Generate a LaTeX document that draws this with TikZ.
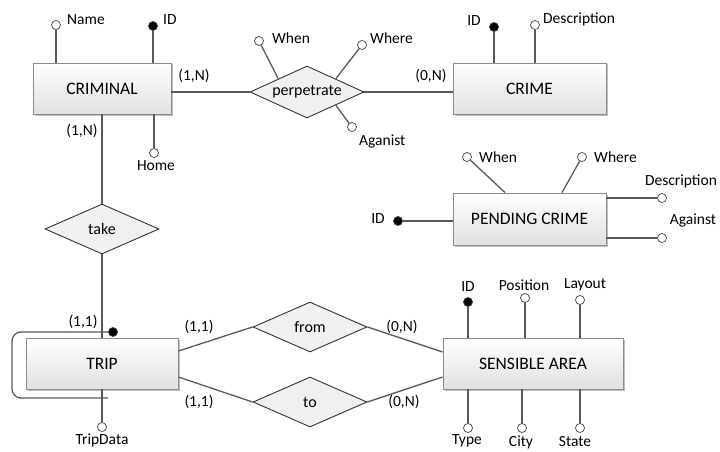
\documentclass[tikz,border=0pt]{standalone}
\usepackage{fontspec}
\setmainfont{Carlito}
\usetikzlibrary{shapes.geometric,shadows}
\definecolor{linegray}{HTML}{595959}
\definecolor{boxgray}{HTML}{8C8C8C}
\begin{document}
\begin{tikzpicture}[x=1pt,y=-1pt,
  entity/.style={rectangle, draw=boxgray, line width=0.9, top color=white, bottom color=black!12,
    minimum height=51, font=\fontsize{17.5}{20}\selectfont,
    drop shadow={shadow xshift=1.5pt, shadow yshift=-1.5pt, opacity=0.25, fill=black}},
  relation/.style={diamond, draw=black!80, line width=0.9, fill=black!6, inner sep=0,
    shape aspect=2.2, minimum width=114, minimum height=50, font=\fontsize{16}{19}\selectfont},
  attr/.style={circle, draw=black!75, line width=0.7, fill=white, inner sep=0, minimum size=9},
  key/.style={attr, fill=black},
  lbl/.style={font=\fontsize{15.5}{18}\selectfont, inner sep=0},
  link/.style={draw=linegray, line width=1.3}]
\useasboundingbox (0,0) rectangle (720,452);
% entities
\node[entity, minimum width=138] (criminal) at (102,88.5){CRIMINAL};
\node[entity, minimum width=153] (crime) at (529.5,88.5){CRIME};
\node[entity, minimum width=153, minimum height=52] (pending) at (529.5,219){PENDING CRIME};
\node[entity, minimum width=152] (trip) at (102,363.5){TRIP};
\node[entity, minimum width=180] (area) at (533,363.5){SENSIBLE AREA};
% relationships
\node[relation, minimum height=52] (perp) at (307,92){perpetrate};
\node[relation] (take) at (102,229){take};
\node[relation] (from) at (310,327){from};
\node[relation] (to) at (310,402){to};
\draw[link](perp.west) -- (perp.west -| criminal.east);
\draw[link](perp.east) -- (perp.east -| crime.west);
\draw[link](criminal) -- (take);
\draw[link](take) -- (trip);
\draw[link]([yshift=12.5pt]trip.east) -- (from.west);
\draw[link]([yshift=-13.5pt]trip.east) -- (to.west);
\draw[link](from.east) -- ([yshift=11.5pt]area.west);
\draw[link](to.east) -- ([yshift=-13.5pt]area.west);
% cardinalities
\node[lbl] (cardCrP) at (194,76){(1,N)};
\node[lbl] (cardCrT) at (82,131){(1,N)};
\node[lbl] (cardCmP) at (431,76){(0,N)};
\node[lbl] (cardTrT) at (83,322){(1,1)};
\node[lbl] (cardTrF) at (199,327){(1,1)};
\node[lbl] (cardTrO) at (199,402){(1,1)};
\node[lbl] (cardArF) at (402,327){(0,N)};
\node[lbl] (cardArO) at (404,402){(0,N)};
% CRIMINAL attributes
\node[attr] (crName) at (56,25){};
\draw[link](crName) -- (crName |- criminal.north);
\node[lbl, anchor=west] (crNameL) at (67,20){Name};
\node[key] (crId) at (153,26){};
\draw[link](crId) -- (crId |- criminal.north);
\node[lbl, anchor=west] (crIdL) at (163,20){ID};
\node[attr] (crHome) at (154,153){};
\draw[link](crHome) -- (crHome |- criminal.south);
\node[lbl] (crHomeL) at (156,166){Home};
% perpetrate attributes
\node[attr] (pWhen) at (259,41){};
\draw[link](pWhen) -- (perp.north west);
\node[lbl, anchor=west] (pWhenL) at (272,38){When};
\node[attr] (pWhere) at (362,45){};
\draw[link](pWhere) -- (perp.north east);
\node[lbl, anchor=west] (pWhereL) at (370,38){Where};
\node[attr] (pAgainst) at (352,127){};
\draw[link](pAgainst) -- (perp.south east);
\node[lbl, anchor=west] (pAgainstL) at (359,141){Aganist};
% CRIME attributes
\node[key] (cmId) at (494,27){};
\draw[link](cmId) -- (cmId |- crime.north);
\node[lbl] (cmIdL) at (474,21){ID};
\node[attr] (cmDesc) at (535,25){};
\draw[link](cmDesc) -- (cmDesc |- crime.north);
\node[lbl, anchor=west] (cmDescL) at (543,19){Description};
% PENDING CRIME attributes
\node[attr] (pcWhen) at (467,157){};
\draw[link](pcWhen) -- ([xshift=-24.5pt]pending.north);
\node[lbl, anchor=west] (pcWhenL) at (479,157){When};
\node[attr] (pcWhere) at (582,157){};
\draw[link](pcWhere) -- ([xshift=32.5pt]pending.north);
\node[lbl, anchor=west] (pcWhereL) at (594,157){Where};
\node[attr] (pcDesc) at (662,198){};
\draw[link](pcDesc) -- (pcDesc -| pending.east);
\node[lbl] (pcDescL) at (681,181){Description};
\node[attr] (pcAgainst) at (662,238){};
\draw[link](pcAgainst) -- (pcAgainst -| pending.east);
\node[lbl] (pcAgainstL) at (693,220){Against};
\node[key] (pcId) at (398,221){};
\draw[link](pcId) -- (pcId -| pending.west);
\node[lbl] (pcIdL) at (378,219){ID};
% TRIP attributes
\node[key] (trId) at (113,332){};
\coordinate (loopEnd) at (108,398);
\draw[link, rounded corners=9](trId) -- ++(-101,0) |- (loopEnd);
\node[attr] (trData) at (102,427){};
\draw[link](trData) -- (trip.south);
\node[lbl] (trDataL) at (102,440){TripData};
% SENSIBLE AREA attributes
\node[key] (arId) at (468,302){};
\draw[link](arId) -- (arId |- area.north);
\node[lbl] (arIdL) at (468,287){ID};
\node[attr] (arPos) at (525,298){};
\draw[link](arPos) -- (arPos |- area.north);
\node[lbl] (arPosL) at (524,285){Position};
\node[attr] (arLayout) at (580,300){};
\draw[link](arLayout) -- (arLayout |- area.north);
\node[lbl] (arLayoutL) at (585,285){Layout};
\node[attr] (arType) at (468,428){};
\draw[link](arType) -- (arType |- area.south);
\node[lbl] (arTypeL) at (467,441){Type};
\node[attr] (arCity) at (522,428){};
\draw[link](arCity) -- (arCity |- area.south);
\node[lbl] (arCityL) at (521,442){City};
\node[attr] (arState) at (580,428){};
\draw[link](arState) -- (arState |- area.south);
\node[lbl] (arStateL) at (575,442){State};
\end{tikzpicture}
\end{document}
